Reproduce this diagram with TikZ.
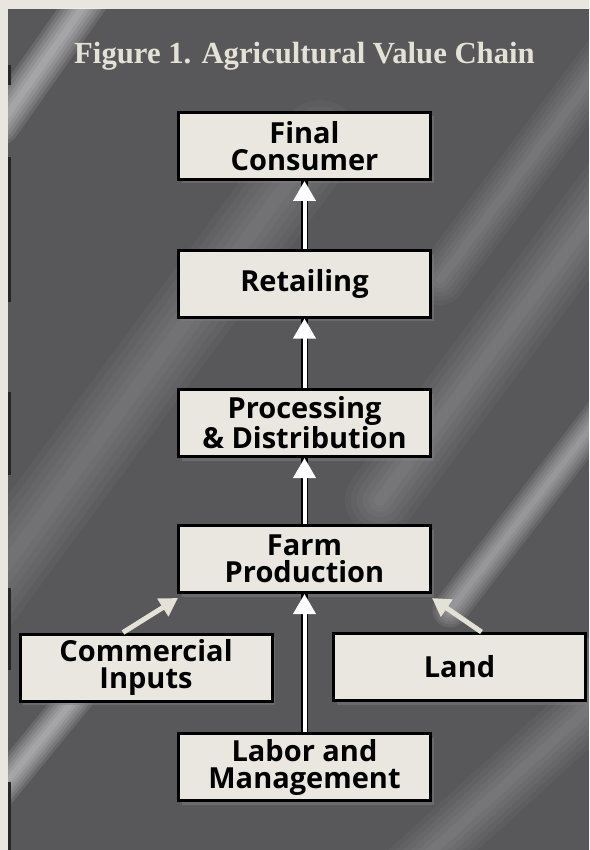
\documentclass[tikz,border=0pt]{standalone}
\usepackage{fontspec}
\setmainfont{Liberation Serif}
\newfontfamily\boxfont{Open Sans}
\usetikzlibrary{positioning,arrows.meta,calc,shadows}
\definecolor{ChainGray}{RGB}{88,87,90}
\definecolor{PaperEdge}{RGB}{232,230,222}
\definecolor{BoxFill}{RGB}{233,231,224}
\definecolor{TitleInk}{RGB}{228,225,215}

\begin{document}
\begin{tikzpicture}[x=1pt, y=-1pt, every node/.style={align=center}]
\tikzset{
  stagebox/.style={draw=black, line width=3pt, fill=BoxFill, minimum width=252pt, minimum height=67pt, inner sep=0pt,
    font=\boxfont\bfseries\fontsize{29}{27}\selectfont,
    drop shadow={shadow xshift=3pt, shadow yshift=-4pt, opacity=0.45}},
  flow/.style={-{Triangle[width=22pt,length=20pt]}, line width=4pt, white, preaction={draw=black, line width=7pt, -}},
  feed/.style={-{Triangle[width=20pt,length=18pt]}, line width=5pt, TitleInk}
}
  % backdrop with paper edge
  \fill[PaperEdge] (0,0) rectangle (589,850);
  \fill[ChainGray] (8,9) rectangle (589,850);
  \begin{scope}
    \clip (8,9) rectangle (589,850);
    % soft light streaks
    \foreach \ax/\ay/\bx/\by/\w/\o in {0/125/95/-10/40/0.10, 0/790/90/680/35/0.10, 450/610/620/390/35/0.08,
        380/500/620/180/70/0.035, 440/280/620/40/50/0.035, -20/600/320/140/80/0.03, 400/880/620/680/60/0.035}{
      \foreach \k in {1,...,6}
        \draw[white, opacity=\o, line cap=round, line width=\k*\w/6] (\ax,\ay) -- (\bx,\by);
    }
  \end{scope}
  \foreach \ya/\yb in {65/85,157/302,392/475,588/670,782/850}
    \fill[black!85] (8,\ya) rectangle (11,\yb);

  \node[font=\bfseries\fontsize{30.7}{33}\selectfont, text=TitleInk, anchor=base] (title) at (304.5,64) {Figure 1. Agricultural Value Chain};

  \node[stagebox] (consumer) at (304.5,146) {Final\\Consumer};
  \node[stagebox] (retail) at (304.5,283.5) {Retailing};
  \node[stagebox] (process) at (304.5,423) {Processing\\\& Distribution};
  \node[stagebox] (farm) at (304.5,559) {Farm\\Production};
  \node[stagebox] (inputs) at (146,667.5) {Commercial\\Inputs};
  \node[stagebox] (land) at (459.5,667) {Land};
  \node[stagebox] (labor) at (304.5,767) {Labor and\\Management};

  \draw[flow] (retail) -- (consumer);
  \draw[flow] (process) -- (retail);
  \draw[flow] (farm) -- (process);
  \draw[flow] (labor) -- (farm);
  \draw[feed] ($(inputs.north)+(-23,0)$) -- ($(farm.south west)+(1,4)$);
  \draw[feed] ($(land.north)+(22,0)$) -- ($(farm.south east)+(0,4)$);
\end{tikzpicture}
\end{document}
